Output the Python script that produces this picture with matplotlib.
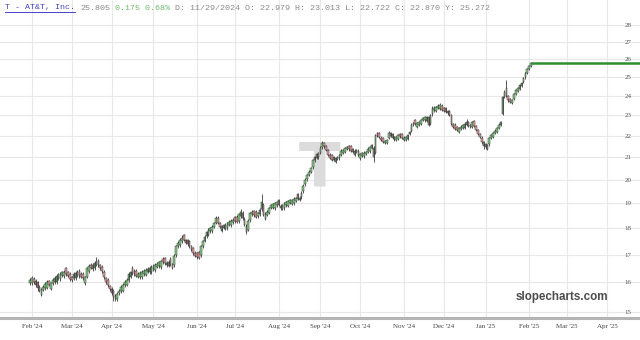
import matplotlib
matplotlib.use("Agg")
import matplotlib.pyplot as plt
from matplotlib.lines import Line2D
import numpy as np
import pandas as pd

# daily OHLC, one entry per weekday starting 2024-01-31
opens = [
    15.98, 15.97, 16.12, 16.05, 16.00, 15.84, 15.58, 15.75, 15.80, 15.82,
    16.04, 15.79, 15.98, 16.00, 16.02, 16.16, 16.12, 16.25, 16.23, 16.50,
    16.36, 16.30, 16.18, 16.15, 16.14, 16.38, 16.40, 16.30, 16.29, 15.98,
    16.20, 16.40, 16.62, 16.47, 16.50, 16.63, 16.78, 16.60, 16.55, 16.38,
    16.14, 16.08, 15.86, 15.79, 15.70, 15.43, 15.42, 15.62, 15.69, 15.72,
    15.90, 15.92, 16.08, 16.20, 16.52, 16.40, 16.42, 16.20, 16.19, 16.18,
    16.28, 16.27, 16.38, 16.37, 16.35, 16.46, 16.44, 16.56, 16.57, 16.55,
    16.85, 16.86, 16.60, 16.59, 16.85, 16.64, 16.60, 16.98, 17.30, 17.35,
    17.50, 17.73, 17.54, 17.53, 17.50, 17.30, 17.23, 17.06, 17.05, 17.08,
    16.98, 17.32, 17.52, 17.70, 17.75, 17.88, 17.88, 18.06, 18.22, 18.42,
    18.20, 17.90, 18.12, 17.98, 18.00, 18.13, 18.12, 18.23, 18.43, 18.45,
    18.28, 18.47, 18.62, 18.38, 18.10, 17.95, 18.32, 18.55, 18.67, 18.65,
    18.48, 18.55, 18.76, 18.95, 18.38, 18.53, 18.62, 18.83, 18.81, 18.80,
    18.93, 19.13, 18.90, 18.77, 18.80, 18.93, 18.90, 19.02, 18.99, 19.00,
    19.10, 19.38, 19.14, 19.26, 19.50, 19.80, 20.02, 20.22, 20.35, 20.55,
    20.86, 21.15, 21.00, 21.22, 21.46, 21.66, 21.52, 21.32, 21.12, 21.10,
    21.00, 20.79, 20.92, 20.96, 21.10, 21.22, 21.24, 21.38, 21.51, 21.50,
    21.37, 21.12, 21.24, 21.30, 20.95, 21.08, 21.04, 21.15, 21.25, 21.28,
    21.45, 21.45, 21.20, 22.15, 22.15, 21.92, 21.89, 21.66, 21.66, 21.90,
    22.12, 22.08, 21.83, 21.80, 21.85, 22.10, 22.08, 21.82, 21.80, 21.85,
    22.08, 22.25, 22.52, 22.75, 22.42, 22.55, 22.57, 22.78, 22.75, 22.73,
    22.90, 22.60, 23.05, 23.25, 23.23, 23.38, 23.35, 23.50, 23.37, 23.38,
    23.22, 23.21, 23.00, 22.58, 22.55, 22.41, 22.21, 22.35, 22.38, 22.40,
    22.55, 22.68, 22.53, 22.45, 22.70, 22.48, 22.28, 22.10, 21.92, 21.70,
    21.60, 21.39, 21.60, 21.90, 21.95, 22.13, 22.21, 22.40, 22.52, 23.05,
    23.95, 24.40, 24.00, 23.85, 23.65, 23.85, 24.12, 24.25, 24.38, 24.52,
    24.72, 24.98, 25.22, 25.46, 25.62,
]
highs = [
    16.16, 16.21, 16.18, 16.11, 16.06, 15.90, 15.82, 15.91, 16.01, 16.08,
    16.10, 16.03, 16.14, 16.21, 16.28, 16.34, 16.36, 16.41, 16.44, 16.56,
    16.42, 16.36, 16.24, 16.36, 16.40, 16.44, 16.46, 16.36, 16.35, 16.24,
    16.56, 16.64, 16.68, 16.68, 16.76, 16.90, 16.84, 16.66, 16.61, 16.44,
    16.20, 16.14, 15.92, 15.85, 15.76, 15.61, 15.66, 15.78, 15.90, 15.98,
    16.08, 16.16, 16.36, 16.41, 16.58, 16.46, 16.48, 16.36, 16.40, 16.44,
    16.46, 16.51, 16.54, 16.58, 16.61, 16.64, 16.68, 16.72, 16.78, 16.81,
    16.91, 16.92, 16.76, 16.80, 16.91, 16.70, 17.01, 17.36, 17.51, 17.61,
    17.75, 17.79, 17.60, 17.59, 17.56, 17.36, 17.29, 17.12, 17.11, 17.14,
    17.36, 17.56, 17.72, 17.91, 18.01, 18.06, 18.12, 18.26, 18.50, 18.48,
    18.26, 18.14, 18.18, 18.19, 18.26, 18.31, 18.36, 18.39, 18.49, 18.51,
    18.61, 18.75, 18.68, 18.44, 18.16, 18.36, 18.66, 18.71, 18.73, 18.71,
    18.66, 18.79, 19.40, 19.01, 18.64, 18.71, 18.86, 18.99, 19.02, 19.06,
    19.11, 19.19, 18.96, 18.98, 19.06, 19.11, 19.14, 19.18, 19.20, 19.26,
    19.28, 19.44, 19.30, 19.51, 19.81, 20.06, 20.26, 20.41, 20.56, 20.94,
    21.06, 21.21, 21.26, 21.51, 21.78, 21.72, 21.58, 21.38, 21.18, 21.16,
    21.06, 21.03, 21.08, 21.17, 21.36, 21.40, 21.48, 21.54, 21.57, 21.56,
    21.43, 21.36, 21.40, 21.36, 21.21, 21.26, 21.28, 21.31, 21.46, 21.54,
    21.63, 21.51, 22.11, 22.21, 22.21, 21.98, 21.95, 21.82, 21.87, 22.24,
    22.18, 22.14, 21.99, 22.01, 22.11, 22.16, 22.14, 21.98, 22.01, 22.11,
    22.26, 22.61, 22.68, 22.81, 22.68, 22.73, 22.81, 22.94, 22.96, 22.99,
    22.96, 23.06, 23.50, 23.46, 23.49, 23.56, 23.65, 23.56, 23.43, 23.44,
    23.28, 23.27, 23.06, 22.64, 22.61, 22.47, 22.45, 22.51, 22.59, 22.66,
    22.80, 22.74, 22.59, 22.73, 22.76, 22.54, 22.34, 22.16, 21.98, 21.76,
    21.66, 21.63, 21.96, 22.11, 22.21, 22.31, 22.45, 22.61, 22.74, 24.00,
    24.30, 24.84, 24.06, 23.91, 23.86, 24.16, 24.37, 24.46, 24.61, 24.76,
    25.01, 25.26, 25.51, 25.68, 25.84,
]
lows = [
    15.92, 15.91, 15.96, 15.84, 15.70, 15.66, 15.52, 15.69, 15.74, 15.76,
    15.86, 15.73, 15.92, 15.94, 15.96, 16.10, 16.06, 16.19, 16.17, 16.24,
    16.18, 16.06, 16.02, 16.09, 16.08, 16.20, 16.16, 16.14, 16.08, 15.92,
    16.14, 16.34, 16.46, 16.41, 16.44, 16.57, 16.54, 16.44, 16.34, 16.12,
    15.96, 15.84, 15.70, 15.58, 15.36, 15.37, 15.36, 15.56, 15.63, 15.66,
    15.84, 15.86, 16.02, 16.14, 16.26, 16.22, 16.18, 16.14, 16.13, 16.12,
    16.22, 16.21, 16.32, 16.31, 16.29, 16.40, 16.38, 16.50, 16.51, 16.49,
    16.67, 16.62, 16.54, 16.53, 16.59, 16.46, 16.54, 16.92, 17.24, 17.29,
    17.44, 17.49, 17.38, 17.32, 17.24, 17.12, 16.99, 16.90, 16.84, 16.82,
    16.92, 17.26, 17.46, 17.64, 17.69, 17.82, 17.82, 18.00, 18.16, 18.16,
    17.99, 17.84, 17.96, 17.92, 17.94, 18.07, 18.06, 18.17, 18.22, 18.19,
    18.22, 18.41, 18.34, 18.07, 17.76, 17.89, 18.26, 18.49, 18.46, 18.39,
    18.42, 18.49, 18.70, 18.47, 18.32, 18.47, 18.56, 18.77, 18.75, 18.74,
    18.87, 18.89, 18.74, 18.71, 18.74, 18.87, 18.84, 18.96, 18.93, 18.94,
    19.04, 19.14, 19.08, 19.20, 19.44, 19.74, 19.96, 20.16, 20.29, 20.49,
    20.80, 20.91, 20.94, 21.16, 21.40, 21.44, 21.28, 21.04, 20.91, 20.84,
    20.82, 20.73, 20.86, 20.90, 21.04, 21.16, 21.18, 21.32, 21.30, 21.24,
    21.19, 21.06, 21.18, 21.05, 20.89, 21.02, 20.98, 21.09, 21.19, 21.22,
    21.39, 20.80, 21.14, 21.94, 21.89, 21.74, 21.65, 21.60, 21.60, 21.84,
    21.94, 21.84, 21.77, 21.74, 21.79, 21.92, 21.84, 21.76, 21.74, 21.79,
    22.02, 22.19, 22.46, 22.54, 22.36, 22.49, 22.51, 22.72, 22.69, 22.67,
    22.47, 22.54, 22.99, 23.19, 23.17, 23.32, 23.29, 23.22, 23.16, 23.12,
    23.04, 22.97, 22.54, 22.37, 22.29, 22.23, 22.15, 22.29, 22.32, 22.34,
    22.49, 22.44, 22.37, 22.39, 22.44, 22.23, 22.04, 21.89, 21.64, 21.40,
    21.38, 21.33, 21.54, 21.84, 21.89, 22.07, 22.15, 22.34, 22.46, 23.00,
    23.90, 23.95, 23.70, 23.62, 23.59, 23.79, 24.06, 24.19, 24.32, 24.46,
    24.66, 24.92, 25.16, 25.40, 25.56,
]
closes = [
    16.10, 16.15, 16.02, 15.90, 15.80, 15.72, 15.76, 15.85, 15.95, 16.02,
    15.92, 15.97, 16.08, 16.15, 16.22, 16.28, 16.30, 16.35, 16.38, 16.30,
    16.24, 16.12, 16.08, 16.30, 16.34, 16.26, 16.22, 16.20, 16.14, 16.18,
    16.50, 16.58, 16.52, 16.62, 16.70, 16.75, 16.60, 16.50, 16.40, 16.18,
    16.02, 15.90, 15.76, 15.64, 15.50, 15.55, 15.60, 15.72, 15.84, 15.92,
    16.02, 16.10, 16.30, 16.35, 16.32, 16.28, 16.24, 16.30, 16.34, 16.38,
    16.40, 16.45, 16.48, 16.52, 16.55, 16.58, 16.62, 16.66, 16.72, 16.75,
    16.73, 16.68, 16.70, 16.74, 16.65, 16.52, 16.95, 17.30, 17.45, 17.55,
    17.62, 17.55, 17.44, 17.38, 17.30, 17.18, 17.05, 16.96, 16.90, 16.88,
    17.30, 17.50, 17.66, 17.85, 17.95, 18.00, 18.06, 18.20, 18.40, 18.22,
    18.05, 18.08, 18.02, 18.13, 18.20, 18.25, 18.30, 18.33, 18.28, 18.25,
    18.55, 18.65, 18.40, 18.13, 17.85, 18.30, 18.60, 18.65, 18.52, 18.45,
    18.60, 18.73, 19.05, 18.53, 18.58, 18.65, 18.80, 18.93, 18.96, 19.00,
    19.05, 18.95, 18.80, 18.92, 19.00, 19.05, 19.08, 19.12, 19.14, 19.20,
    19.22, 19.20, 19.24, 19.45, 19.75, 20.00, 20.20, 20.35, 20.50, 20.88,
    21.00, 20.97, 21.20, 21.45, 21.66, 21.50, 21.34, 21.10, 20.97, 20.90,
    20.88, 20.97, 21.02, 21.11, 21.30, 21.34, 21.42, 21.48, 21.36, 21.30,
    21.25, 21.30, 21.34, 21.11, 21.15, 21.20, 21.22, 21.25, 21.40, 21.48,
    21.57, 21.00, 22.05, 22.00, 21.95, 21.80, 21.71, 21.76, 21.81, 22.15,
    22.00, 21.90, 21.93, 21.95, 22.05, 21.98, 21.90, 21.92, 21.95, 22.05,
    22.20, 22.55, 22.62, 22.60, 22.62, 22.67, 22.75, 22.88, 22.90, 22.93,
    22.53, 23.00, 23.38, 23.40, 23.43, 23.50, 23.53, 23.28, 23.22, 23.18,
    23.10, 23.03, 22.60, 22.43, 22.35, 22.29, 22.39, 22.45, 22.53, 22.60,
    22.67, 22.50, 22.43, 22.67, 22.50, 22.29, 22.10, 21.95, 21.70, 21.50,
    21.48, 21.57, 21.90, 22.05, 22.15, 22.25, 22.39, 22.55, 22.67, 23.95,
    24.20, 24.00, 23.79, 23.70, 23.79, 24.10, 24.31, 24.40, 24.55, 24.70,
    24.95, 25.20, 25.45, 25.62, 25.78,
]
last_price = 25.805
first_day = "2024-01-31"
axis_end_day = "2025-04-30"
price_ticks = [15, 16, 17, 18, 19, 20, 21, 22, 23, 24, 25, 26, 27, 28]

header = [
    ("T - AT&T, Inc.", "#4646c8"),
    ("25.805", "#8a8a8a"),
    ("0.175 0.68%", "#6dbb6d"),
    ("D: 11/29/2024 O: 22.979 H: 23.013 L: 22.722 C: 22.870 Y: 25.272", "#8a8a8a"),
]

o = np.array(opens)
h = np.array(highs)
l = np.array(lows)
c = np.array(closes)
n = len(c)
x = np.arange(n)
days = pd.bdate_range(first_day, axis_end_day)

fig = plt.figure(figsize=(6.4, 3.4), dpi=100)
ax = fig.add_axes([0, 22 / 340, 1, 318 / 340])
ax.set_yscale("log")
ax.set_xlim(-15.8, 321.4)
ax.set_ylim(14.81, 29.56)

# grid
ax.set_yticks(price_ticks)
ax.set_yticklabels([str(t) for t in price_ticks])
ax.yaxis.set_minor_locator(matplotlib.ticker.NullLocator())
month_idx = [i for i in range(1, len(days)) if days[i].month != days[i - 1].month]
ax.set_xticks(month_idx)
ax.set_xticklabels([days[i].strftime("%b '%y") for i in month_idx])
ax.grid(True, color="#e8e8e8", lw=0.8, zorder=0)
ax.set_axisbelow(True)

ax.yaxis.tick_right()
ax.tick_params(axis="y", length=0, pad=-11, labelsize=5, labelcolor="#555555")
ax.tick_params(axis="x", length=0, pad=4, labelsize=5, labelcolor="#444444")
for lab in ax.get_xticklabels() + ax.get_yticklabels():
    lab.set_family("Liberation Serif")

for s in ["top", "left", "right"]:
    ax.spines[s].set_visible(False)
ax.spines["bottom"].set_color("#b4b4b4")
ax.spines["bottom"].set_linewidth(2.2)

# watermarks
ax.text(0.5, 0.466, "T", transform=ax.transAxes, ha="center", va="center",
        fontsize=44, color="#dcdcdc", zorder=1, family="DejaVu Sans",
        weight="bold")
ax.text(0.95, 0.066, "slopecharts.com", transform=ax.transAxes, ha="right",
        va="center", fontsize=8.4, color="#4d4d4d", weight="bold",
        family="Liberation Sans", zorder=5)

# candles
up = c >= o
fill = np.where(up, "#8ad48a", "#e6a3a3")
ax.vlines(x, l, h, color="#2b2b2b", lw=0.55, zorder=2)
ax.bar(x, np.abs(c - o), bottom=np.minimum(o, c), width=0.85, color=fill,
       edgecolor="#2b2b2b", linewidth=0.35, zorder=3)

# last price line
ax.hlines(last_price, n - 1, ax.get_xlim()[1], color="#2f8f2f", lw=1.8, zorder=4)

# header text
t0 = fig.text(5 / 640, 1 - 8 / 340, header[0][0], color=header[0][1],
              fontsize=6.0, family="Liberation Mono", va="center", ha="left")
prev = t0
for txt, col in header[1:]:
    prev = ax.annotate(txt, xy=(1, 0), xycoords=prev, xytext=(3.6, 0),
                       textcoords="offset points", color=col, fontsize=6.0,
                       family="Liberation Mono", va="bottom", ha="left",
                       annotation_clip=False)

fig.canvas.draw()
bb = t0.get_window_extent()
fw, fh = fig.bbox.width, fig.bbox.height
fig.add_artist(Line2D([bb.x0 / fw, bb.x1 / fw], [(bb.y0 - 0.5) / fh] * 2,
                      color=header[0][1], lw=0.7))

fig.savefig("out.png", dpi=100, facecolor="white")
